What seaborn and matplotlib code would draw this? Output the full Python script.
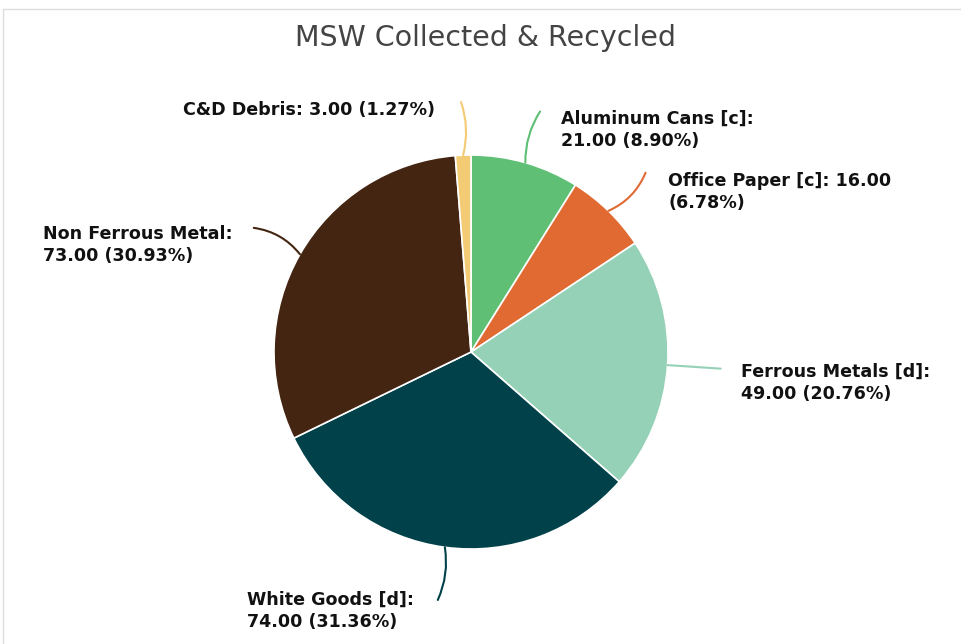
import numpy as np
import matplotlib
matplotlib.use("Agg")
import matplotlib.pyplot as plt
from matplotlib.lines import Line2D
import seaborn as sns

# data
categories = ["Aluminum Cans [c]", "Office Paper [c]", "Ferrous Metals [d]",
              "White Goods [d]", "Non Ferrous Metal", "C&D Debris"]
values = [21.0, 16.0, 49.0, 74.0, 73.0, 3.0]
colors = ["#5fbf74", "#e06a32", "#95d1b7", "#00414a", "#432511", "#f3cb74"]
title = "MSW Collected & Recycled"

# where the line break goes in each label
wrap = ["colon", "value", "colon", "colon", "colon", "none"]
# label text anchors (pixels, left edge / vertical centre) and connector curvature
text_px = [(561, 130), (668, 192), (741, 383), (247, 611), (43, 245), (183, 110)]
rads = [-0.15, 0.2, 0.0, -0.15, 0.2, 0.15]

sns.set_style("white")
plt.rcParams["font.family"] = ["DejaVu Sans"]

W, H = 962, 644
cx, cy, R = 471, 352, 197
fig = plt.figure(figsize=(W / 100, H / 100), dpi=100)
ax = fig.add_axes([0, 0, 1, 1])

total = sum(values)
wedges, _ = ax.pie(values, colors=colors, startangle=90, counterclock=False,
                   radius=1.0, center=(0, 0),
                   wedgeprops=dict(edgecolor="white", linewidth=1.2))
ax.set_xlim((0 - cx) / R, (W - cx) / R)
ax.set_ylim((cy - H) / R, cy / R)
ax.set_aspect("auto")
ax.axis("off")


def px2data(x, y):
    return (x - cx) / R, (cy - y) / R


cum = 0
for i, v in enumerate(values):
    pct = v / total * 100
    mid = np.deg2rad(90 - (cum + v / 2) / total * 360)
    cum += v
    if wrap[i] == "colon":
        lab = f"{categories[i]}:\n{v:.2f} ({pct:.2f}%)"
    elif wrap[i] == "value":
        lab = f"{categories[i]}: {v:.2f}\n({pct:.2f}%)"
    else:
        lab = f"{categories[i]}: {v:.2f} ({pct:.2f}%)"
    p0 = (np.cos(mid), np.sin(mid))
    p1 = (1.27 * np.cos(mid), 1.27 * np.sin(mid))
    ax.annotate("", xy=p1, xytext=p0,
                arrowprops=dict(arrowstyle="-", color=colors[i], lw=1.5,
                                shrinkA=0, shrinkB=0,
                                connectionstyle=f"arc3,rad={rads[i]}"))
    tx, ty = px2data(*text_px[i])
    ax.text(tx, ty, lab, ha="left", va="center", fontsize=12.6,
            fontweight="bold", color="#111111", linespacing=1.25)

fig.text(486 / W, 1 - 38 / H, title, ha="center", va="center",
         fontsize=20.5, color="#444444")

# light frame at the top and left edges
fig.add_artist(Line2D([3 / W, 1], [1 - 9 / H, 1 - 9 / H], color="#dddddd", lw=1))
fig.add_artist(Line2D([3 / W, 3 / W], [0, 1 - 9 / H], color="#dddddd", lw=1))

fig.savefig("out.png", dpi=100, facecolor="white")
